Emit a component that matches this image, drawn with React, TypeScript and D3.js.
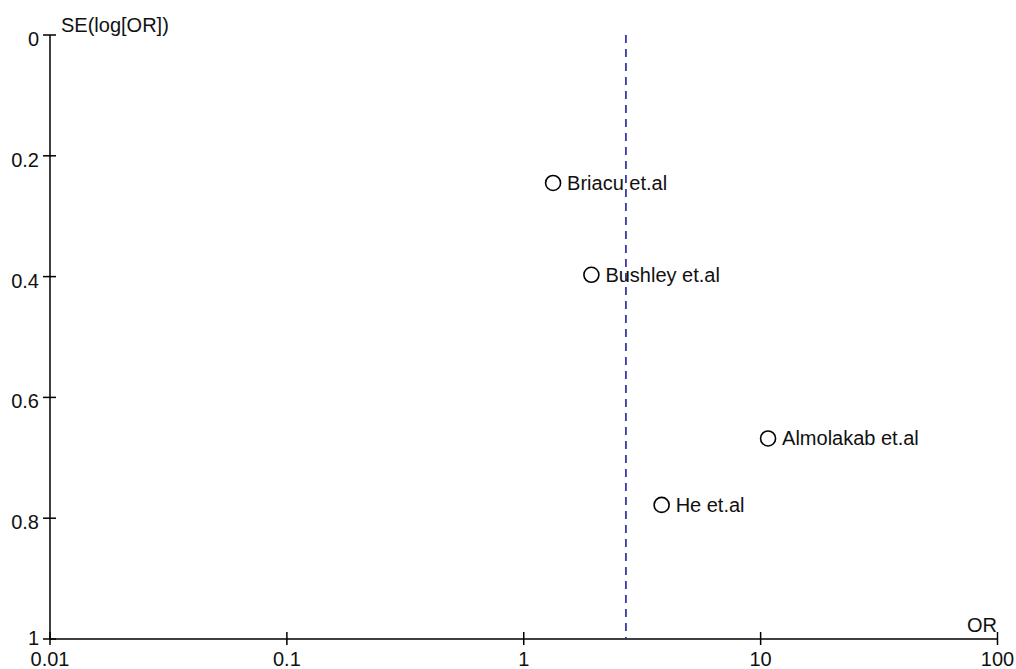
import React from "react";
import * as d3 from "d3";

const studies = ["Briacu et.al", "Bushley et.al", "Almolakab et.al", "He et.al"];
const orValues = [1.33, 1.93, 10.75, 3.82];
const seValues = [0.245, 0.397, 0.668, 0.778];
const pooledOR = 2.7;
const xTicks = [0.01, 0.1, 1, 10, 100];
const xTickLabels = ["0.01", "0.1", "1", "10", "100"];
const yTicks = [0, 0.2, 0.4, 0.6, 0.8, 1];
const yTickLabels = ["0", "0.2", "0.4", "0.6", "0.8", "1"];

export default function App() {
  const W = 1016, H = 669;
  const x = d3.scaleLog().domain([0.01, 100]).range([50, 997.5]);
  const y = d3.scaleLinear().domain([0, 1]).range([35, 639]);
  const font = "'Liberation Sans', Arial, sans-serif";
  return (
    <svg width={W} height={H} style={{ position: "absolute", left: 0, top: 0, background: "#fff" }} fontFamily={font}>
      <line x1={x(0.01)} x2={x(0.01)} y1={y(0)} y2={y(1)} stroke="#000" strokeWidth={1.5} />
      <line x1={x(0.01)} x2={x(100)} y1={y(1)} y2={y(1)} stroke="#000" strokeWidth={1.5} />
      {yTicks.map((t, i) => (
        <g key={"y" + i}>
          <line x1={x(0.01) - 7} x2={x(0.01) + 6} y1={y(t)} y2={y(t)} stroke="#000" strokeWidth={1.5} />
          <text x={x(0.01) - 11} y={y(t) + (i === yTicks.length - 1 ? 6 : 11)} fontSize={20} textAnchor="end" fill="#111">{yTickLabels[i]}</text>
        </g>
      ))}
      {xTicks.map((t, i) => (
        <g key={"x" + i}>
          <line x1={x(t)} x2={x(t)} y1={y(1) - 7} y2={y(1) + 6} stroke="#000" strokeWidth={1.5} />
          <text x={x(t)} y={y(1) + 27} fontSize={20} textAnchor="middle" fill="#111">{xTickLabels[i]}</text>
        </g>
      ))}
      <text x={61} y={32} fontSize={20} fill="#111">SE(log[OR])</text>
      <text x={997} y={632} fontSize={20} textAnchor="end" fill="#111">OR</text>
      <line x1={x(pooledOR)} x2={x(pooledOR)} y1={y(0)} y2={y(1)} stroke="#22229a" strokeWidth={1.6} strokeDasharray="8,6" />
      {studies.map((s, i) => (
        <g key={s}>
          <circle cx={x(orValues[i])} cy={y(seValues[i])} r={7.5} fill="none" stroke="#000" strokeWidth={1.6} />
          <text x={x(orValues[i]) + 14} y={y(seValues[i]) + 7} fontSize={20} fill="#111">{s}</text>
        </g>
      ))}
    </svg>
  );
}
